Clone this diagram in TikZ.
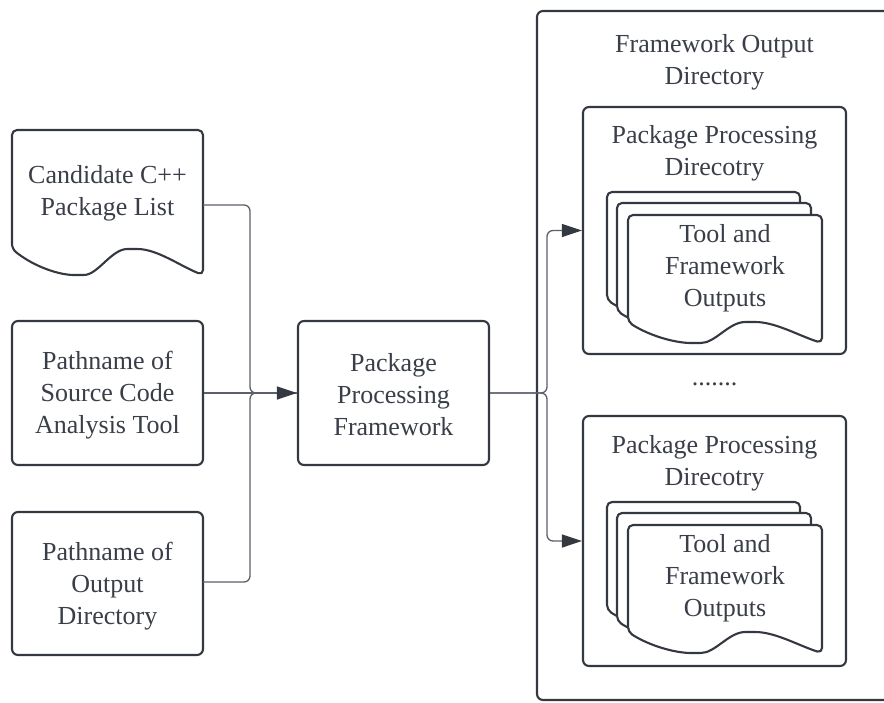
\documentclass[tikz,border=0pt]{standalone}
\usepackage{fontspec}
\setmainfont{Liberation Serif}
\usetikzlibrary{arrows.meta}
\definecolor{ink}{RGB}{52,56,64}
\definecolor{txt}{RGB}{58,62,72}
\definecolor{wire}{RGB}{92,96,106}
\tikzset{
  x=1pt, y=-1pt,
  shp/.style={draw=ink, line width=2.1pt, fill=white, line join=round},
  box/.style={shp, rounded corners=6pt, inner sep=0pt},
  lbl/.style={text=txt, align=center, font=\fontsize{26}{32}\selectfont, inner sep=0pt},
  conn/.style={draw=wire, line width=1.3pt, rounded corners=6pt},
  tip/.style={-{Triangle[length=20pt,width=13pt,color=ink]}},
}
% document symbol: left x, top y, right x, left bottom y, right bottom y
\newcommand\docsym[5]{%
  \draw[shp, rounded corners=5pt]
    (#1,#4)
    .. controls ({#1+0.12*(#3-#1)},{#4+0.7*(#5-#4)}) and ({#1+0.25*(#3-#1)},{#5}) ..
    ({#1+0.35*(#3-#1)},{#5})
    .. controls ({#1+0.45*(#3-#1)},{#5}) and ({#1+0.52*(#3-#1)},{#4}) ..
    ({#1+0.63*(#3-#1)},{#4})
    .. controls ({#1+0.76*(#3-#1)},{#4}) and ({#1+0.88*(#3-#1)},{#4+0.65*(#5-#4)}) ..
    (#3,#5) -- (#3,#2) -- (#1,#2) -- cycle;}
\begin{document}
\begin{tikzpicture}
\useasboundingbox (0,0) rectangle (884,702);
\clip (0,0) rectangle (884,702);

% ---- inputs ----
\docsym{12}{130}{203}{249}{275}
\node[lbl] (cand) at (107.5,193) {Candidate C++\\Package List};
\coordinate (candout) at (203,205);

\node[box, minimum width=191pt, minimum height=144pt] (srcbox) at (107.5,393) {};
\node[lbl] (srctxt) at (107.5,395) {Pathname of\\Source Code\\Analysis Tool};

\node[box, minimum width=191pt, minimum height=143pt] (outbox) at (107.5,583.5) {};
\node[lbl] (outtxt) at (107.5,586) {Pathname of\\Output\\Directory};
\coordinate (outout) at (203,582);

% ---- framework ----
\node[box, minimum width=191pt, minimum height=144pt] (ppf) at (393.5,393) {};
\node[lbl] (ppftxt) at (393.5,395) {Package\\Processing\\Framework};

% ---- output directory ----
\node[box, minimum width=360pt, minimum height=689pt] (fod) at (717,355.5) {};
\node[lbl] (fodtxt) at (714.5,62.5) {Framework Output\\Directory};

\node[box, minimum width=263pt, minimum height=247pt] (ppd1) at (714.5,230.5) {};
\node[lbl] (ppd1txt) at (714.5,153.5) {Package Processing\\Direcotry};
\docsym{607}{192}{800}{300}{321}
\docsym{617}{203}{811}{311}{332}
\docsym{628}{215}{822}{322}{343}
\node[lbl] (out1) at (725,268.5) {Tool and\\Framework\\Outputs};

\node[lbl] (dots) at (714.5,384) {.......};

\node[box, minimum width=263pt, minimum height=250pt] (ppd2) at (714.5,541) {};
\node[lbl] (ppd2txt) at (714.5,463.5) {Package Processing\\Direcotry};
\docsym{607}{502}{800}{610}{631}
\docsym{617}{513}{811}{621}{642}
\docsym{628}{525}{822}{632}{653}
\node[lbl] (out2) at (725,578.5) {Tool and\\Framework\\Outputs};

% ---- connectors ----
\coordinate (merge) at (250,393);
\coordinate (split) at (547,393);
\draw[conn] (candout) -| (merge) -- (ppf.west);
\draw[conn] (outout) -| (merge) -- (ppf.west);
\draw[conn, tip] (srcbox.east) -- (ppf.west);
\draw[conn, tip] (ppf.east) -- (split) |- (ppd1.west);
\draw[conn, tip] (ppf.east) -- (split) |- (ppd2.west);
\end{tikzpicture}
\end{document}
